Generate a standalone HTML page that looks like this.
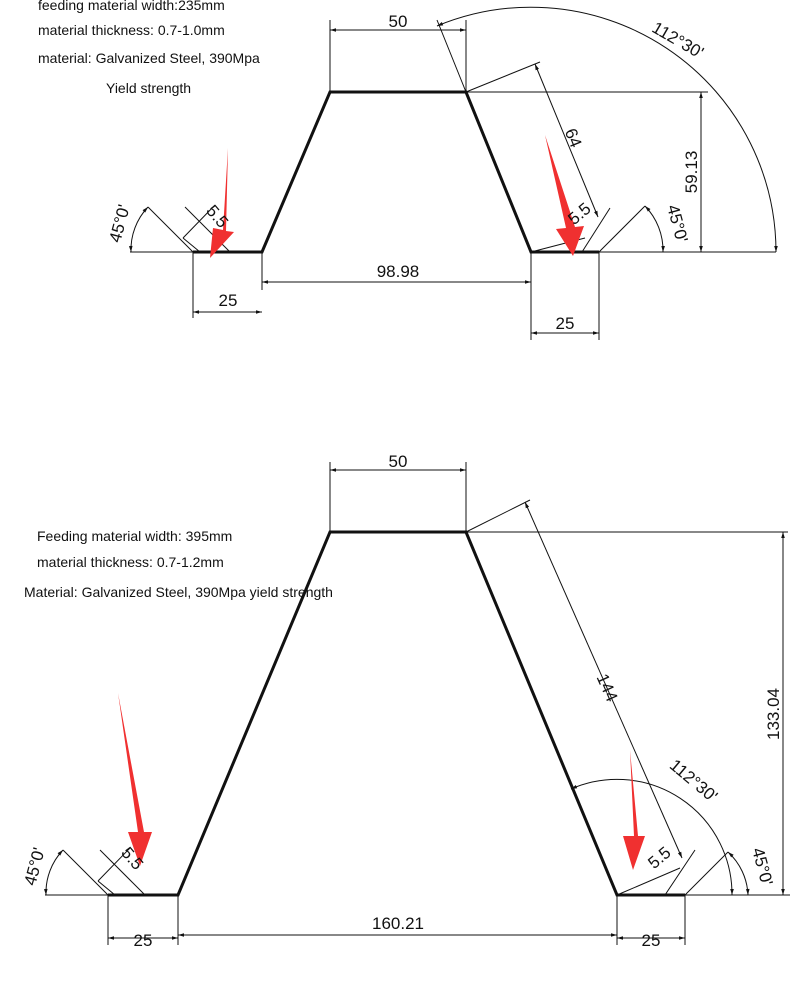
<!DOCTYPE html>
<html><head><style>
body{margin:0;background:#fff;width:800px;height:999px;overflow:hidden}
svg{position:absolute;left:0;top:0}
.t{font-family:"Liberation Sans",sans-serif;font-size:14px;fill:#111}
.d{font-family:"Liberation Sans",sans-serif;font-size:17px;fill:#111;transform-box:fill-box}
</style></head><body>
<svg width="800" height="999" viewBox="0 0 800 999">
<defs>
<marker id="a" viewBox="0 0 10 10" refX="10" refY="5" markerWidth="8" markerHeight="6" orient="auto-start-reverse"><path d="M0,2 L10,5 L0,8z" fill="#111"/></marker>
</defs>
<g stroke="#111" fill="none" stroke-width="1">
<polyline points="193,252 262,252 330,92 466,92 531,252 599,252" stroke-width="3"/>
<line x1="330" y1="92" x2="330" y2="20"/><line x1="466" y1="92" x2="466" y2="20"/>
<line x1="330" y1="30" x2="466" y2="30" marker-start="url(#a)" marker-end="url(#a)"/>
<line x1="262" y1="252" x2="262" y2="290"/><line x1="531" y1="252" x2="531" y2="340"/>
<line x1="262" y1="282" x2="531" y2="282" marker-start="url(#a)" marker-end="url(#a)"/>
<line x1="193" y1="252" x2="193" y2="318"/><line x1="599" y1="252" x2="599" y2="340"/>
<line x1="193" y1="312" x2="262" y2="312" marker-start="url(#a)" marker-end="url(#a)"/>
<line x1="531" y1="333" x2="599" y2="333" marker-start="url(#a)" marker-end="url(#a)"/>
<line x1="466" y1="92" x2="708" y2="92"/><line x1="599" y1="252" x2="776" y2="252"/>
<line x1="701" y1="92" x2="701" y2="252" marker-start="url(#a)" marker-end="url(#a)"/>
<line x1="466" y1="92" x2="437" y2="20"/>
<path d="M776,252 A245,245 0 0 0 437,26" marker-start="url(#a)" marker-end="url(#a)"/>
<line x1="466" y1="92" x2="540" y2="62"/>
<line x1="535" y1="64" x2="598" y2="217" marker-start="url(#a)" marker-end="url(#a)"/>
<line x1="599" y1="252" x2="645" y2="206"/>
<path d="M663,252 A64,64 0 0 0 645,206" marker-start="url(#a)" marker-end="url(#a)"/>
<line x1="582" y1="252" x2="610" y2="208"/><line x1="531" y1="252" x2="585" y2="238"/>
<line x1="193" y1="252" x2="148" y2="207"/><line x1="130" y1="252" x2="193" y2="252"/>
<path d="M131,252 A62,62 0 0 1 148,207" marker-start="url(#a)" marker-end="url(#a)"/>
<line x1="183" y1="238" x2="215" y2="205"/><line x1="183" y1="238" x2="200" y2="252"/><line x1="230" y1="252" x2="185" y2="207"/>
<polyline points="108,895 178,895 330,532 466,532 617,895 685,895" stroke-width="3"/>
<line x1="330" y1="532" x2="330" y2="462"/><line x1="466" y1="532" x2="466" y2="462"/>
<line x1="330" y1="470" x2="466" y2="470" marker-start="url(#a)" marker-end="url(#a)"/>
<line x1="466" y1="532" x2="788" y2="532"/><line x1="685" y1="895" x2="790" y2="895"/>
<line x1="783" y1="532" x2="783" y2="895" marker-start="url(#a)" marker-end="url(#a)"/>
<line x1="108" y1="895" x2="108" y2="945"/><line x1="178" y1="895" x2="178" y2="945"/>
<line x1="617" y1="895" x2="617" y2="945"/><line x1="685" y1="895" x2="685" y2="945"/>
<line x1="178" y1="935" x2="617" y2="935" marker-start="url(#a)" marker-end="url(#a)"/>
<line x1="108" y1="938" x2="178" y2="938" marker-start="url(#a)" marker-end="url(#a)"/>
<line x1="617" y1="938" x2="685" y2="938" marker-start="url(#a)" marker-end="url(#a)"/>
<line x1="466" y1="532" x2="530" y2="500"/>
<line x1="525" y1="502" x2="682" y2="858" marker-start="url(#a)" marker-end="url(#a)"/>
<path d="M732,895 A115,115 0 0 0 571,789" marker-start="url(#a)" marker-end="url(#a)"/>
<line x1="685" y1="895" x2="728" y2="852"/>
<path d="M748,895 A62,62 0 0 0 728,852" marker-start="url(#a)" marker-end="url(#a)"/>
<line x1="617" y1="895" x2="680" y2="868"/><line x1="665" y1="895" x2="695" y2="850"/>
<line x1="108" y1="895" x2="63" y2="850"/><line x1="45" y1="895" x2="108" y2="895"/>
<path d="M46,895 A62,62 0 0 1 63,850" marker-start="url(#a)" marker-end="url(#a)"/>
<line x1="98" y1="881" x2="130" y2="848"/><line x1="98" y1="881" x2="115" y2="895"/><line x1="145" y1="895" x2="100" y2="850"/>
</g>
<g fill="#f03030">
<polygon points="228,148 223,230 213,228 210,258 234,232 226,231"/>
<polygon points="545,135 566,228 556,229 573,256 584,226 575,227"/>
<polygon points="118,693 138,832 128,832 140,866 152,832 144,832"/>
<polygon points="630,750 634,836 623,836 633,870 645,836 638,836"/>
</g>
<text class="t" x="38" y="10">feeding material width:235mm</text>
<text class="t" x="38" y="35">material thickness: 0.7-1.0mm</text>
<text class="t" x="38" y="63">material: Galvanized Steel, 390Mpa</text>
<text class="t" x="106" y="93">Yield strength</text>
<text class="t" x="37" y="541">Feeding material width: 395mm</text>
<text class="t" x="37" y="567">material thickness: 0.7-1.2mm</text>
<text class="t" x="24" y="597">Material: Galvanized Steel, 390Mpa yield strength</text>
<g class="d" text-anchor="middle">
<text x="398" y="27">50</text><text x="398" y="277">98.98</text>
<text x="228" y="306">25</text><text x="565" y="329">25</text>
<text x="398" y="467">50</text><text x="398" y="929">160.21</text>
<text x="143" y="946">25</text><text x="651" y="946">25</text>
<text transform="translate(697,172) rotate(-90)">59.13</text>
<text transform="translate(779,714) rotate(-90)">133.04</text>
<text transform="translate(568,140) rotate(68)">64</text>
<text transform="translate(602,690) rotate(66)">144</text>
<text transform="translate(675,45) rotate(30)">112°30'</text>
<text transform="translate(690,785) rotate(40)">112°30'</text>
<text transform="translate(672,225) rotate(75)">45°0'</text>
<text transform="translate(125,225) rotate(-75)">45°0'</text>
<text transform="translate(757,868) rotate(75)">45°0'</text>
<text transform="translate(40,868) rotate(-75)">45°0'</text>
<text transform="translate(213,220) rotate(50)">5.5</text>
<text transform="translate(583,218) rotate(-40)">5.5</text>
<text transform="translate(128,862) rotate(50)">5.5</text>
<text transform="translate(663,862) rotate(-40)">5.5</text>
</g>
</svg>
</body></html>
